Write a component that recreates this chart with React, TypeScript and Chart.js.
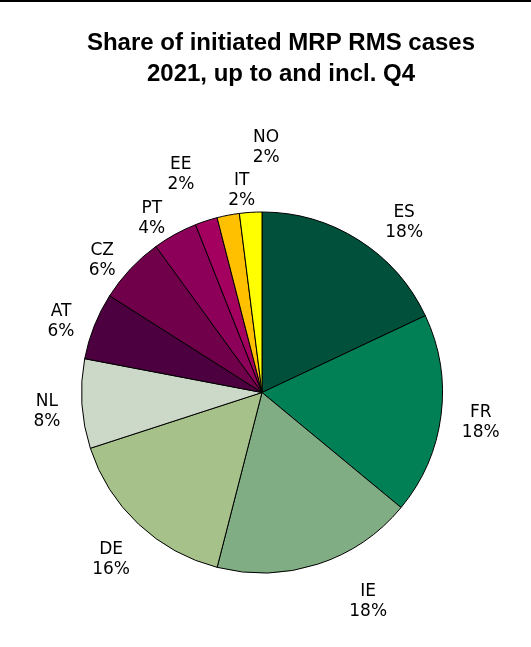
import React, { useRef, useEffect } from 'react';
import { Chart, ChartConfiguration, Plugin } from 'chart.js/auto';

// Cases per country (50 in total)
const countries = ['ES', 'FR', 'IE', 'DE', 'NL', 'AT', 'CZ', 'PT', 'EE', 'IT', 'NO'];
const cases = [9, 9, 9, 8, 4, 3, 3, 2, 1, 1, 1];
const sliceColors = [
  '#00503C', '#008054', '#80AD84', '#A6C28A', '#CCD8C8',
  '#4D0040', '#70004A', '#8C005A', '#A3005F', '#FFC000', '#FFFF00',
];

const titleLines = ['Share of initiated MRP RMS cases', '2021, up to and incl. Q4'];

// Small hand nudges so the outside labels sit where the spreadsheet put them
const labelNudge: Record<string, [number, number]> = {
  ES: [24, 14],
  IE: [38, -3],
  DE: [0, 4],
  NL: [5, 3],
  AT: [4, 8],
  CZ: [1, 17],
  PT: [-4, 17],
  EE: [-13, -10],
  IT: [21, 13],
  NO: [18, -27],
};

const W = 531;
const H = 647;

const decorPlugin: Plugin<'pie'> = {
  id: 'decor',
  afterDraw(chart) {
    const ctx = chart.ctx;
    ctx.save();
    // top rule
    ctx.fillStyle = '#000';
    ctx.fillRect(0, 0, W, 2);

    // title
    ctx.font = 'bold 24px "Liberation Sans", Arial, sans-serif';
    ctx.textAlign = 'center';
    ctx.textBaseline = 'alphabetic';
    ctx.fillText(titleLines[0], 281, 50);
    ctx.fillText(titleLines[1], 281, 81);

    // outside labels: name + percentage
    const total = cases.reduce((a, b) => a + b, 0);
    const meta = chart.getDatasetMeta(0);
    ctx.font = '17px "DejaVu Sans", Verdana, sans-serif';
    meta.data.forEach((el, i) => {
      const arc = el as any;
      const mid = (arc.startAngle + arc.endAngle) / 2;
      const d = arc.outerRadius + 40;
      const [nx, ny] = labelNudge[countries[i]] || [0, 0];
      const cx = arc.x + Math.cos(mid) * d + nx;
      const cy = arc.y + Math.sin(mid) * d + ny;
      const pct = Math.round((cases[i] / total) * 100) + '%';
      ctx.fillText(countries[i], cx, cy - 3.5);
      ctx.fillText(pct, cx, cy + 16.5);
    });
    ctx.restore();
  },
};

const App: React.FC = () => {
  const chartRef = useRef<HTMLCanvasElement | null>(null);
  const chartInstance = useRef<Chart | null>(null);

  useEffect(() => {
    if (chartInstance.current) {
      chartInstance.current.destroy();
      chartInstance.current = null;
    }

    const config: ChartConfiguration<'pie'> = {
      type: 'pie',
      data: {
        labels: countries,
        datasets: [
          {
            data: cases,
            backgroundColor: sliceColors,
            borderColor: '#000',
            borderWidth: 1,
          },
        ],
      },
      options: {
        responsive: false,
        animation: false,
        layout: {
          padding: { left: 81, right: 88, top: 211, bottom: 73 },
        },
        plugins: {
          legend: { display: false },
          title: { display: false },
          tooltip: { enabled: false },
        },
      },
      plugins: [decorPlugin],
    };

    if (chartRef.current) {
      const ctx = chartRef.current.getContext('2d');
      if (ctx) {
        chartInstance.current = new Chart(ctx, config);
      }
    }

    return () => {
      if (chartInstance.current) {
        chartInstance.current.destroy();
        chartInstance.current = null;
      }
    };
  }, []);

  return (
    <div style={{ position: 'absolute', left: 0, top: 0, width: W, height: H, background: '#fff' }}>
      <canvas ref={chartRef} width={W} height={H} style={{ width: W, height: H, display: 'block' }} />
    </div>
  );
};

export default App;
